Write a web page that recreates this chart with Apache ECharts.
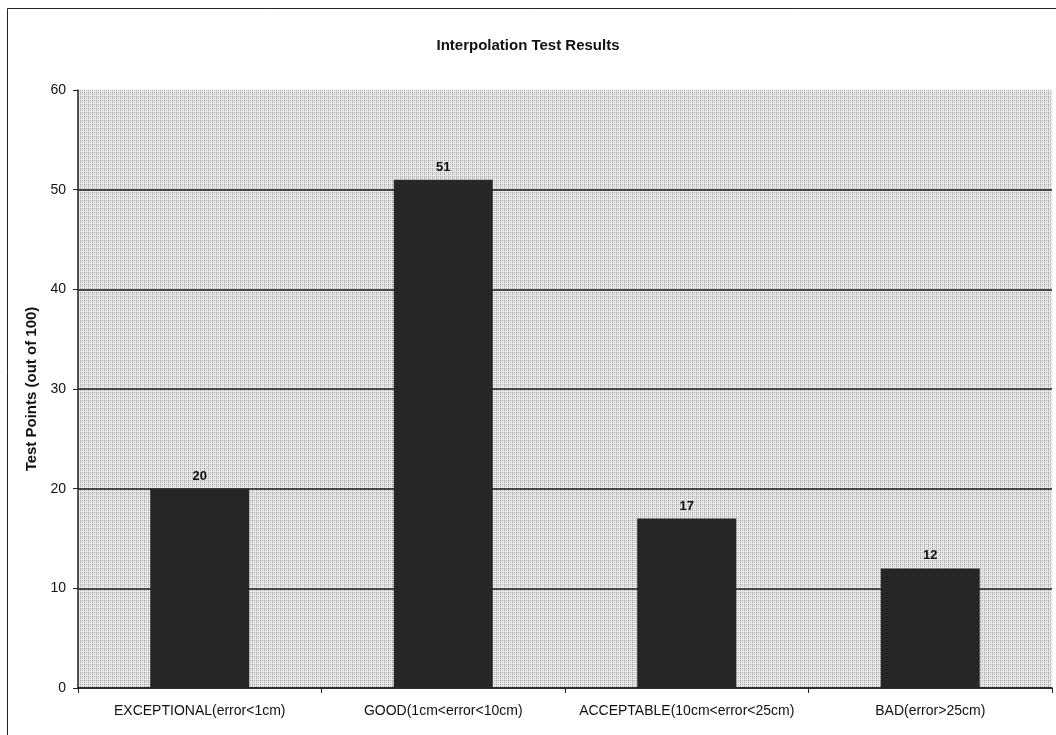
<!DOCTYPE html>
<html>
<head>
<meta charset="utf-8">
<script src="https://cdn.jsdelivr.net/npm/echarts@6/dist/echarts.min.js"></script>
<style>
  html, body { margin: 0; padding: 0; background: #fff; }
  #chart { width: 1056px; height: 735px; }
</style>
</head>
<body>
<div id="chart"></div>
<script>
// Result categories and the number of test points in each
const categories = [
  'EXCEPTIONAL(error<1cm)',
  'GOOD(1cm<error<10cm)',
  'ACCEPTABLE(10cm<error<25cm)',
  'BAD(error>25cm)'
];
const testPoints = [20, 51, 17, 12];
const yTicks = [0, 10, 20, 30, 40, 50, 60];

// Stippled grey fill for the plot area
function stippleTile() {
  const c = document.createElement('canvas');
  c.width = 4; c.height = 4;
  const g = c.getContext('2d');
  g.fillStyle = '#e8e8e8';
  g.fillRect(0, 0, 4, 4);
  g.fillStyle = '#a8a8a8';
  g.fillRect(0, 0, 1, 1);
  g.fillRect(0, 2, 1, 1);
  g.fillRect(2, 0, 1, 1);
  g.fillStyle = '#c8c8c8';
  g.fillRect(2, 2, 1, 1);
  g.fillRect(0, 1, 1, 1);
  return c;
}

const chart = echarts.init(document.getElementById('chart'), null, { renderer: 'canvas' });
const font = 'Liberation Sans, Arial, sans-serif';

chart.setOption({
  animation: false,
  backgroundColor: '#ffffff',
  textStyle: { fontFamily: font },
  title: {
    text: 'Interpolation Test Results',
    left: 'center',
    top: 33,
    textStyle: { fontFamily: font, fontSize: 15, fontWeight: 'bold', color: '#111' }
  },
  graphic: [{
    type: 'rect',
    shape: { x: 7.5, y: 8.5, width: 1100, height: 800 },
    style: { fill: 'none', stroke: '#222', lineWidth: 1 },
    z: 100
  }],
  grid: {
    left: 78, right: 4, top: 90, bottom: 47,
    show: true,
    backgroundColor: { image: stippleTile(), repeat: 'repeat' },
    borderWidth: 0
  },
  xAxis: {
    type: 'category',
    data: categories,
    axisLine: { show: true, lineStyle: { color: '#222', width: 1.5 } },
    axisTick: { show: true, length: 5, lineStyle: { color: '#222' } },
    axisLabel: { fontFamily: font, fontSize: 14, color: '#111', margin: 16, interval: 0 },
    splitLine: { show: false }
  },
  yAxis: {
    type: 'value',
    min: yTicks[0],
    max: yTicks[yTicks.length - 1],
    interval: 10,
    name: 'Test Points (out of 100)',
    nameLocation: 'middle',
    nameGap: 37,
    nameTextStyle: { fontFamily: font, fontSize: 15, fontWeight: 'bold', color: '#111' },
    axisLine: { show: true, lineStyle: { color: '#222', width: 1.5 } },
    axisTick: { show: true, length: 5, lineStyle: { color: '#222' } },
    axisLabel: { fontFamily: font, fontSize: 14, color: '#111', margin: 12 },
    splitLine: {
      show: true,
      lineStyle: {
        color: ['#1a1a1a', '#1a1a1a', '#1a1a1a', '#1a1a1a', '#1a1a1a', '#1a1a1a', 'rgba(0,0,0,0)'],
        width: 1.6
      }
    }
  },
  series: [{
    type: 'bar',
    data: testPoints,
    barWidth: 99,
    itemStyle: { color: '#262626' },
    label: {
      show: true,
      position: 'top',
      distance: 6,
      fontFamily: font,
      fontSize: 13,
      fontWeight: 'bold',
      color: '#111'
    }
  }]
});
</script>
</body>
</html>
